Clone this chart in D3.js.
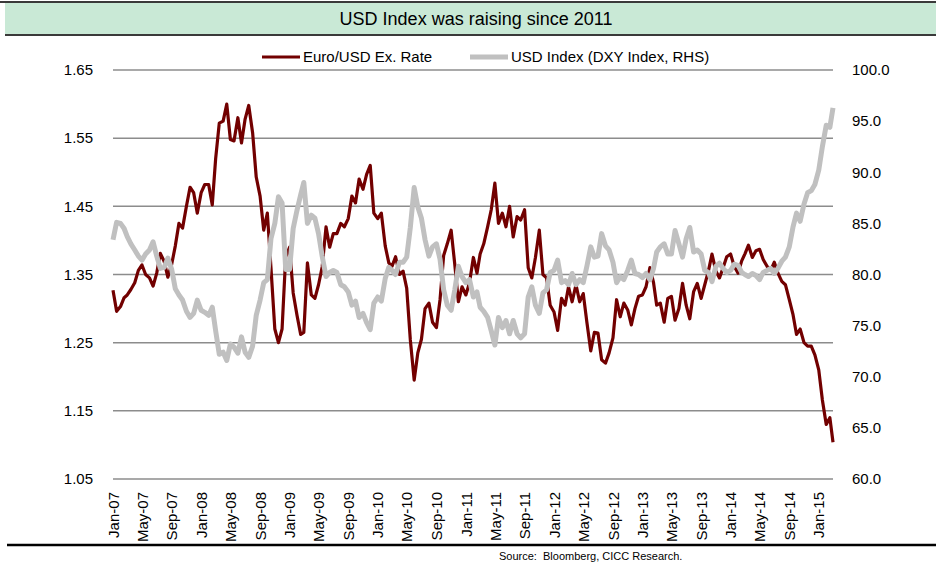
<!DOCTYPE html>
<html lang="en">
<head>
  <meta charset="UTF-8">
  <title>USD Index vs Euro</title>
  <script src="https://d3js.org/d3.v7.min.js"></script>
  <style>
    body { margin: 0; background: #fff; }
    text { font-family: "Liberation Sans", Arial, sans-serif; fill: #000; }
  </style>
</head>
<body>
<script type="text/javascript">
    // half-monthly readings (1st and 16th of each month), Jan-2007 .. Mar-2015
    var eurUsd = [
      1.327,1.296, 1.303,1.316, 1.320,1.328, 1.338,1.356, 1.364,1.350, 1.345,1.333,
      1.352,1.381, 1.369,1.346, 1.365,1.392, 1.425,1.418, 1.450,1.478, 1.470,1.440,
      1.470,1.482, 1.482,1.452, 1.520,1.572, 1.575,1.600, 1.548,1.546, 1.580,1.543,
      1.578,1.598, 1.558,1.493, 1.465,1.415, 1.440,1.360, 1.270,1.250, 1.270,1.376,
      1.390,1.323, 1.290,1.262, 1.265,1.367, 1.320,1.315, 1.335,1.361, 1.420,1.390,
      1.410,1.410, 1.425,1.420, 1.432,1.465, 1.455,1.490, 1.475,1.497, 1.510,1.440,
      1.432,1.440, 1.392,1.367, 1.362,1.376, 1.350,1.355, 1.330,1.254, 1.195,1.235,
      1.255,1.300, 1.308,1.280, 1.272,1.313, 1.378,1.395, 1.415,1.365, 1.310,1.332,
      1.320,1.338, 1.375,1.352, 1.380,1.395, 1.420,1.445, 1.484,1.425, 1.440,1.420,
      1.450,1.405, 1.435,1.430, 1.445,1.360, 1.345,1.375, 1.415,1.350, 1.345,1.305,
      1.295,1.268, 1.315,1.305, 1.332,1.310, 1.335,1.310, 1.322,1.280, 1.238,1.265,
      1.264,1.225, 1.220,1.235, 1.257,1.313, 1.288,1.308, 1.298,1.276, 1.300,1.318,
      1.320,1.332, 1.360,1.338, 1.305,1.308, 1.280,1.315, 1.318,1.283, 1.300,1.337,
      1.305,1.285, 1.325,1.337, 1.315,1.335, 1.355,1.380, 1.355,1.345, 1.360,1.376,
      1.380,1.362, 1.352,1.370, 1.380,1.393, 1.375,1.385, 1.387,1.372, 1.362,1.356,
      1.368,1.352, 1.340,1.335, 1.313,1.292, 1.262,1.270, 1.250,1.245, 1.245,1.232,
      1.210,1.166, 1.130,1.140, 1.104
    ];
    var dxy = [
      83.4,85.1, 85.0,84.5, 83.7,83.0, 82.4,81.8, 81.4,82.0, 82.4,83.2,
      81.8,80.6, 80.7,81.6, 80.5,78.6, 78.0,77.5, 76.4,75.8, 76.2,77.5,
      76.5,76.3, 76.0,76.8, 74.5,72.2, 72.4,71.6, 73.2,72.9, 72.3,73.9,
      72.4,71.9, 73.0,76.0, 77.5,79.2, 79.5,83.5, 85.0,87.6, 87.0,80.5,
      80.5,84.5, 86.3,87.8, 89.0,85.0, 85.8,85.5, 84.0,81.8, 79.8,80.2,
      80.4,80.2, 79.0,78.8, 78.3,77.0, 77.4,75.8, 76.2,75.3, 74.6,77.2,
      77.8,77.4, 79.6,80.7, 80.4,80.0, 81.2,81.2, 81.7,84.6, 88.5,86.6,
      85.5,83.4, 81.8,82.7, 83.0,81.5, 78.5,77.0, 76.5,78.5, 80.8,79.8,
      79.2,79.5, 77.8,78.3, 76.8,76.4, 75.8,74.5, 73.1,75.8, 74.8,75.5,
      74.2,75.5, 74.2,73.8, 74.2,77.8, 78.8,77.0, 76.2,78.2, 78.5,80.2,
      80.4,81.4, 79.2,79.4, 79.0,80.1, 79.0,79.5, 79.2,80.8, 82.7,81.7,
      81.8,84.0, 82.8,82.4, 81.2,79.2, 79.8,79.5, 80.4,81.4, 80.1,80.0,
      79.7,80.1, 79.5,80.6, 82.2,82.7, 83.0,82.0, 82.0,84.3, 83.0,81.7,
      83.5,84.6, 82.2,82.4, 82.0,80.4, 80.2,79.3, 80.8,81.1, 80.6,80.2,
      80.4,81.0, 80.9,80.2, 80.0,79.8, 80.1,79.9, 79.5,80.2, 80.4,80.6,
      80.1,80.6, 81.3,81.7, 82.7,84.6, 86.0,85.2, 86.9,88.0, 88.2,88.8,
      90.2,92.5, 94.6,94.4, 96.3
    ];
    var leftTicks = [1.05, 1.15, 1.25, 1.35, 1.45, 1.55, 1.65];
    var rightTicks = [60, 65, 70, 75, 80, 85, 90, 95, 100];
    var seriesNames = ["Euro/USD Ex. Rate", "USD Index (DXY Index, RHS)"];
    var titleText = "USD Index was raising since 2011";
    var sourceText = "Source:  Bloomberg, CICC Research.";

    var width = 936, height = 564;
    var plotL = 113, plotR = 833, plotT = 70, plotB = 479;
    var red = "#720000", grey = "#c0c0c0";

    var dates = eurUsd.map(function(d, i){
      return new Date(2007, Math.floor(i/2), i % 2 ? 16 : 1);
    });
    var xTicks = d3.timeMonth.every(4).range(new Date(2007,0,1), new Date(2015,1,1));

    var svg = d3.select("body").append("svg")
                .attr("width", width)
                .attr("height", height);

    var x = d3.scaleTime().domain([dates[0], dates[dates.length-1]]).range([plotL, plotR]);
    var yL = d3.scaleLinear().domain([1.05, 1.65]).range([plotB, plotT]);
    var yR = d3.scaleLinear().domain([60, 100]).range([plotB, plotT]);

    // title band
    svg.append("rect").attr("x", 5).attr("y", 3).attr("width", width-5).attr("height", 32)
       .attr("fill", "#c9e9d6");
    svg.append("line").attr("x1", 0).attr("x2", width).attr("y1", 2).attr("y2", 2)
       .attr("stroke", "#3a3a3a").attr("stroke-width", 2);
    svg.append("line").attr("x1", 5).attr("x2", width).attr("y1", 35).attr("y2", 35)
       .attr("stroke", "#3a3a3a").attr("stroke-width", 2);
    svg.append("text").attr("x", 476).attr("y", 25).attr("text-anchor", "middle")
       .style("font-size", "18px").text(titleText);

    // gridlines
    svg.append("g").selectAll("line").data(leftTicks).enter().append("line")
       .attr("x1", plotL).attr("x2", plotR)
       .attr("y1", function(d){return yL(d);}).attr("y2", function(d){return yL(d);})
       .attr("stroke", "#8c8c8c").attr("stroke-width", 1.5);

    var gl = svg.append("g").attr("transform", "translate(" + plotL + ",0)")
       .call(d3.axisLeft(yL).tickValues(leftTicks).tickFormat(d3.format(".2f"))
             .tickSize(0).tickPadding(20));
    var gr = svg.append("g").attr("transform", "translate(" + plotR + ",0)")
       .call(d3.axisRight(yR).tickValues(rightTicks).tickFormat(d3.format(".1f"))
             .tickSize(0).tickPadding(19));
    var gx = svg.append("g").attr("transform", "translate(0," + plotB + ")")
       .call(d3.axisBottom(x).tickValues(xTicks).tickFormat(d3.timeFormat("%b-%y")).tickSize(0));
    [gl, gr, gx].forEach(function(g){
      g.select(".domain").remove();
      g.selectAll("text").style("font-size", "15px").style("font-family", "'Liberation Sans', Arial, sans-serif").attr("fill", "#000");
    });
    gx.selectAll(".tick text")
      .attr("text-anchor", "end")
      .attr("transform", "translate(0,13) rotate(-90)")
      .attr("x", 0).attr("y", 0).attr("dy", "0.35em");

    // series
    var lineR = d3.line().x(function(d, i){return x(dates[i]);}).y(function(d){return yL(d);});
    var lineG = d3.line().x(function(d, i){return x(dates[i]);}).y(function(d){return yR(d);});
    svg.append("path").datum(eurUsd).attr("d", lineR)
       .attr("fill", "none").attr("stroke", red).attr("stroke-width", 3.2).attr("stroke-linejoin", "round");
    svg.append("path").datum(dxy).attr("d", lineG)
       .attr("fill", "none").attr("stroke", grey).attr("stroke-width", 5).attr("stroke-linejoin", "round");

    // legend
    var legend = [{name: seriesNames[0], color: red, w: 3.2, x: 262},
                  {name: seriesNames[1], color: grey, w: 5, x: 470}];
    var lg = svg.append("g").selectAll("g").data(legend).enter().append("g");
    lg.append("line").attr("x1", function(d){return d.x;}).attr("x2", function(d){return d.x+38;})
      .attr("y1", 57).attr("y2", 57)
      .attr("stroke", function(d){return d.color;}).attr("stroke-width", function(d){return d.w;});
    lg.append("text").attr("x", function(d){return d.x+41;}).attr("y", 62)
      .style("font-size", "15px").text(function(d){return d.name;});

    // bottom rule and source
    svg.append("line").attr("x1", 7).attr("x2", width).attr("y1", 545).attr("y2", 545)
       .attr("stroke", "#000").attr("stroke-width", 2.5);
    svg.append("text").attr("x", 499).attr("y", 560).style("font-size", "11px")
       .style("white-space", "pre").text(sourceText);
</script>
</body>
</html>
